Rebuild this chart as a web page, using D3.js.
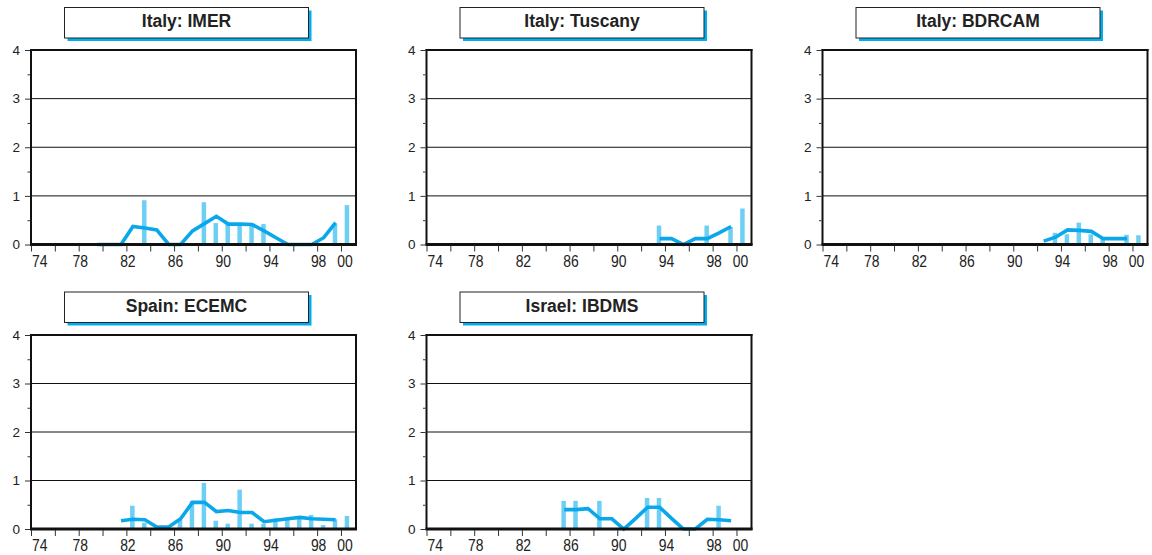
<!DOCTYPE html>
<html>
<head>
<meta charset="utf-8">
<script src="https://cdn.jsdelivr.net/npm/d3@7"></script>
<style>
  html, body { margin: 0; padding: 0; background: #fff; }
  svg { display: block; }
</style>
</head>
<body>
<svg id="chart" width="1152" height="555"></svg>
<script>
// ---------------- data ----------------
const panelTitles = ["Italy: IMER", "Italy: Tuscany", "Italy: BDRCAM", "Spain: ECEMC", "Israel: IBDMS"];
const xTickLabels = ["74", "78", "82", "86", "90", "94", "98", "00"];
const xLabelYears = [1974, 1978, 1982, 1986, 1990, 1994, 1998, 2000];
const yTickValues = [0, 1, 2, 3, 4];

const imerBarYears   = [1983, 1988, 1989, 1990, 1991, 1992, 1993, 1999, 2000];
const imerBarValues  = [0.91, 0.87, 0.44, 0.43, 0.42, 0.42, 0.42, 0.42, 0.81];
const imerLineYears  = [1979,1980,1981,1982,1983,1984,1985,1986,1987,1988,1989,1990,1991,1992,1993,1994,1995,1996,1997,1998,1999];
const imerLineValues = [0, 0, 0, 0.37, 0.34, 0.30, 0, 0, 0.28, 0.43, 0.58, 0.42, 0.42, 0.41, 0.28, 0.14, 0, 0, 0, 0.14, 0.45];

const tuscanyBarYears   = [1993, 1997, 1999, 2000];
const tuscanyBarValues  = [0.39, 0.39, 0.36, 0.74];
const tuscanyLineYears  = [1993, 1994, 1995, 1996, 1997, 1998, 1999];
const tuscanyLineValues = [0.12, 0.12, 0, 0.12, 0.12, 0.24, 0.37];

const bdrcamBarYears   = [1993, 1994, 1995, 1996, 1997, 1999, 2000];
const bdrcamBarValues  = [0.24, 0.21, 0.45, 0.21, 0.11, 0.20, 0.19];
const bdrcamLineYears  = [1992, 1993, 1994, 1995, 1996, 1997, 1998, 1999];
const bdrcamLineValues = [0.07, 0.15, 0.30, 0.29, 0.27, 0.12, 0.12, 0.12];

const ecemcBarYears   = [1982,1983,1986,1987,1988,1989,1990,1991,1992,1993,1994,1995,1996,1997,1998,1999,2000];
const ecemcBarValues  = [0.48,0.13,0.19,0.58,0.95,0.17,0.11,0.81,0.11,0.11,0.22,0.20,0.22,0.29,0.08,0.20,0.27];
const ecemcLineYears  = [1981,1982,1983,1984,1985,1986,1987,1988,1989,1990,1991,1992,1993,1994,1995,1996,1997,1998,1999];
const ecemcLineValues = [0.17,0.20,0.19,0.04,0.04,0.21,0.55,0.55,0.36,0.38,0.34,0.34,0.15,0.18,0.21,0.24,0.21,0.20,0.19];

const ibdmsBarYears   = [1985, 1986, 1988, 1992, 1993, 1998];
const ibdmsBarValues  = [0.58, 0.58, 0.58, 0.64, 0.64, 0.48];
const ibdmsLineYears  = [1985,1986,1987,1988,1989,1990,1991,1992,1993,1994,1995,1996,1997,1998,1999];
const ibdmsLineValues = [0.40,0.40,0.42,0.21,0.21,0,0.22,0.45,0.45,0.22,0,0,0.20,0.19,0.17];

const panels = [
  { title: panelTitles[0], barYears: imerBarYears, barValues: imerBarValues, lineYears: imerLineYears, lineValues: imerLineValues },
  { title: panelTitles[1], barYears: tuscanyBarYears, barValues: tuscanyBarValues, lineYears: tuscanyLineYears, lineValues: tuscanyLineValues },
  { title: panelTitles[2], barYears: bdrcamBarYears, barValues: bdrcamBarValues, lineYears: bdrcamLineYears, lineValues: bdrcamLineValues },
  { title: panelTitles[3], barYears: ecemcBarYears, barValues: ecemcBarValues, lineYears: ecemcLineYears, lineValues: ecemcLineValues },
  { title: panelTitles[4], barYears: ibdmsBarYears, barValues: ibdmsBarValues, lineYears: ibdmsLineYears, lineValues: ibdmsLineValues }
];

// ---------------- layout ----------------
const colLefts = [31, 426.5, 822.5];
const plotW = 325;
const rowTops = [50, 335];
const rowBottoms = [244.5, 529];
const boxTops = [7.5, 292];

const LINE_COLOR = "#0aa8ea";
const BAR_COLOR = "#6ecff5";
const SHADOW_COLOR = "#00aeef";
const TEXT_COLOR = "#222";

const svg = d3.select("#chart");

panels.forEach((p, i) => {
  const col = i % 3, row = Math.floor(i / 3);
  const left = colLefts[col], right = left + plotW;
  const top = rowTops[row], bottom = rowBottoms[row];

  const x = d3.scaleLinear().domain([1974, 2001.26]).range([left, right]);
  const y = d3.scaleLinear().domain([0, 4]).range([bottom, top]);

  const g = svg.append("g");

  // gridlines
  g.append("g").selectAll("line").data([1, 2, 3]).join("line")
    .attr("x1", left).attr("x2", right)
    .attr("y1", d => y(d)).attr("y2", d => y(d))
    .attr("stroke", "#111").attr("stroke-width", 1);

  // bars
  const bw = 4.5;
  g.append("g").selectAll("rect").data(p.barYears.map((yr, k) => [yr, p.barValues[k]])).join("rect")
    .attr("x", d => x(d[0] + 0.5) - bw / 2)
    .attr("width", bw)
    .attr("y", d => y(d[1]))
    .attr("height", d => y(0) - y(d[1]))
    .attr("fill", BAR_COLOR);

  // line
  const lineGen = d3.line().x(d => x(d[0] + 0.55)).y(d => y(d[1]));
  g.append("path")
    .datum(p.lineYears.map((yr, k) => [yr, p.lineValues[k]]))
    .attr("d", lineGen)
    .attr("fill", "none")
    .attr("stroke", LINE_COLOR)
    .attr("stroke-width", 3.6)
    .attr("stroke-linejoin", "miter");

  // frame
  g.append("line").attr("x1", left).attr("x2", left).attr("y1", top - 1).attr("y2", bottom + 1)
    .attr("stroke", "#111").attr("stroke-width", 2);
  g.append("line").attr("x1", right).attr("x2", right).attr("y1", top - 1).attr("y2", bottom + 1)
    .attr("stroke", "#111").attr("stroke-width", 2);
  g.append("line").attr("x1", left - 1).attr("x2", right + 1).attr("y1", top).attr("y2", top)
    .attr("stroke", "#111").attr("stroke-width", 2);
  g.append("line").attr("x1", left - 1).attr("x2", right + 1).attr("y1", bottom).attr("y2", bottom)
    .attr("stroke", "#111").attr("stroke-width", 3);

  // y axis ticks (major + minor)
  const yAxis = d3.axisLeft(y).tickValues(yTickValues).tickSize(5).tickPadding(5).tickFormat(d3.format("d"));
  const ya = g.append("g").attr("transform", `translate(${left - 1},0)`).call(yAxis);
  ya.select(".domain").remove();
  ya.selectAll(".tick line").attr("stroke", "#333");
  ya.selectAll(".tick text").attr("font-family", "'Liberation Sans', Arial, sans-serif")
    .attr("font-size", 13.5).attr("fill", TEXT_COLOR);
  const yMinor = d3.axisLeft(y).tickValues([0.5, 1.5, 2.5, 3.5]).tickSize(2.5).tickFormat("");
  const ym = g.append("g").attr("transform", `translate(${left - 1},0)`).call(yMinor);
  ym.select(".domain").remove();
  ym.selectAll(".tick line").attr("stroke", "#333");

  // x axis ticks every 2 years
  const xTicks = d3.range(1974, 2001, 2);
  const xAxis = d3.axisBottom(x).tickValues(xTicks).tickSize(6).tickFormat("");
  const xa = g.append("g").attr("transform", `translate(0,${bottom + 1})`).call(xAxis);
  xa.select(".domain").remove();
  xa.selectAll(".tick line").attr("stroke", "#333");

  // x labels (narrow)
  g.append("g").selectAll("text").data(xLabelYears.map((yr, k) => [yr, xTickLabels[k]])).join("text")
    .attr("x", (d, k) => k === 0 ? x(d[0]) + 1 : (k === xLabelYears.length - 1 ? x(d[0]) + 4 : x(d[0]) + 1.5))
    .attr("y", bottom + 22)
    .attr("text-anchor", (d, k) => k === 0 ? "start" : "middle")
    .attr("font-family", "'Liberation Sans', Arial, sans-serif")
    .attr("font-size", 17)
    .attr("textLength", 15.5)
    .attr("lengthAdjust", "spacingAndGlyphs")
    .attr("fill", TEXT_COLOR)
    .text(d => d[1]);

  // title box with shadow
  const bx = left + 33.5, by = boxTops[row], bwid = 244, bh = 30.5;
  g.append("rect").attr("x", bx + 3).attr("y", by + 3).attr("width", bwid).attr("height", bh)
    .attr("fill", SHADOW_COLOR);
  g.append("rect").attr("x", bx).attr("y", by).attr("width", bwid).attr("height", bh)
    .attr("fill", "#fff").attr("stroke", "#222").attr("stroke-width", 1);
  g.append("text").attr("x", bx + bwid / 2).attr("y", by + 19.8)
    .attr("text-anchor", "middle")
    .attr("font-family", "'Liberation Sans', Arial, sans-serif")
    .attr("font-weight", "bold").attr("font-size", 17.5)
    .attr("fill", TEXT_COLOR)
    .text(p.title);
});
</script>
</body>
</html>
